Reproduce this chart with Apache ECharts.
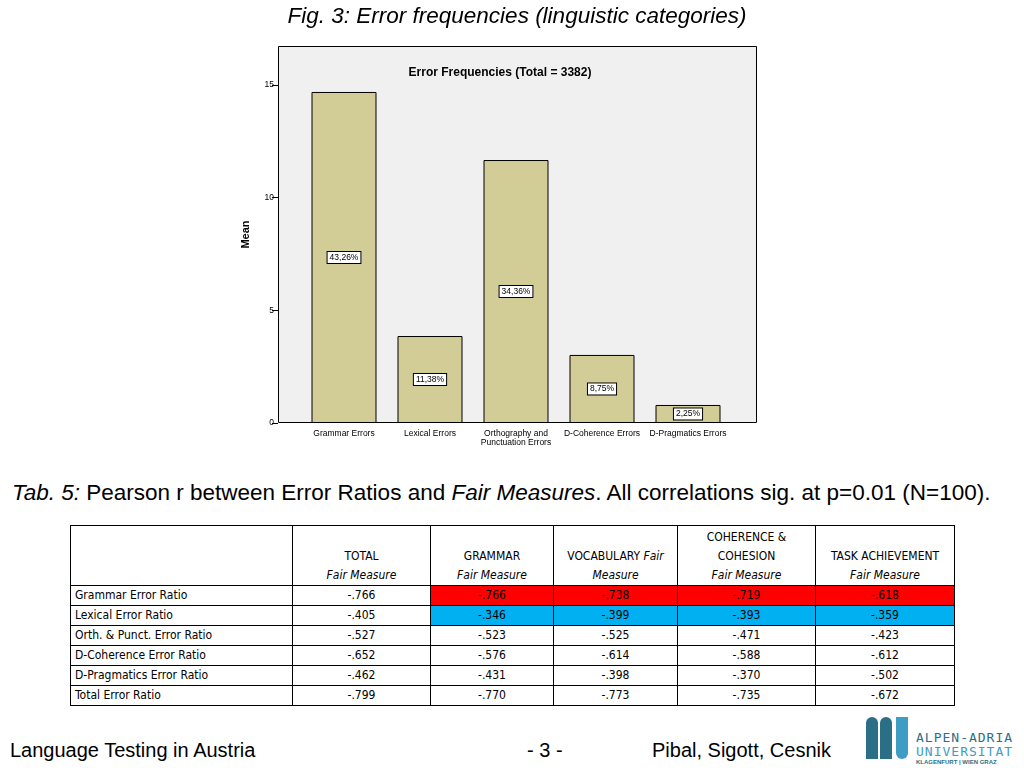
<!DOCTYPE html>
<html><head><meta charset="utf-8">
<script src="https://cdn.jsdelivr.net/npm/echarts@6/dist/echarts.min.js"></script>
<style>
body{margin:0;width:1024px;height:768px;background:#fff;position:relative;overflow:hidden;font-family:"Liberation Sans",Arial,sans-serif}
#c{position:absolute;left:0;top:0;width:1024px;height:460px}
.t{position:absolute;white-space:nowrap;color:#000}
table{position:absolute;left:70px;top:525px;border-collapse:collapse;font-family:"DejaVu Sans Condensed","Liberation Sans Narrow",sans-serif;font-size:12px;table-layout:fixed}
td{border:1px solid #000;padding:0 4px;height:19px;text-align:center;line-height:19px}
td.l{text-align:left}
tr.h td{height:59px;line-height:19px;vertical-align:bottom}
i{font-style:italic}
.r{background:#ff0000}.b{background:#00b0f0}
</style></head><body>
<div id="c"></div>
<div class="t" style="left:0;width:1034px;text-align:center;top:3px;font-size:22.5px;font-style:italic">Fig. 3: Error frequencies (linguistic categories)</div>
<div class="t" style="left:12px;top:480px;font-size:22.5px"><i>Tab. 5:</i> Pearson r between Error Ratios and <i>Fair Measures</i>. All correlations sig. at p=0.01 (N=100).</div>
<div id="tab"></div>
<div class="t" style="left:10px;top:739px;font-size:20px">Language Testing in Austria</div>
<div class="t" style="left:527px;top:739px;font-size:20px">- 3 -</div>
<div class="t" style="left:652px;top:739px;font-size:20px">Pibal, Sigott, Cesnik</div>
<div style="position:absolute;left:866px;top:717px;width:12px;height:42px;background:#2b6f86;border-radius:6px 6px 0 0"></div>
<div style="position:absolute;left:880px;top:717px;width:12px;height:42px;background:#2b6f86;border-radius:6px 6px 0 0"></div>
<div style="position:absolute;left:896px;top:717px;width:12px;height:42px;background:#3f9cc4;border-radius:0 0 6px 6px"></div>
<div class="t" style="left:916px;top:730px;font-size:13px;color:#2b6f86;letter-spacing:1px;font-family:'DejaVu Sans Mono'">ALPEN-ADRIA</div>
<div class="t" style="left:916px;top:744px;font-size:13px;color:#3f9cc4;letter-spacing:1px;font-family:'DejaVu Sans Mono'">UNIVERSITAT</div>
<div class="t" style="left:916px;top:759px;font-size:6px;color:#2b6f86;font-weight:bold">KLAGENFURT | WIEN GRAZ</div>
<script>
const categories=["Grammar Errors","Lexical Errors","Orthography and\nPunctuation Errors","D-Coherence Errors","D-Pragmatics Errors"];
const means=[14.69,3.86,11.67,3.02,0.80];
const percentLabels=["43,26%","11,38%","34,36%","8,75%","2,25%"];

const rowNames=["Grammar Error Ratio","Lexical Error Ratio","Orth. & Punct. Error Ratio","D-Coherence Error Ratio","D-Pragmatics Error Ratio","Total Error Ratio"];
const colHeads=["TOTAL<br><i>Fair Measure</i>","GRAMMAR<br><i>Fair Measure</i>","VOCABULARY <i>Fair</i><br><i>Measure</i>","COHERENCE &amp;<br>COHESION<br><i>Fair Measure</i>","TASK ACHIEVEMENT<br><i>Fair Measure</i>"];
const rTotal=["-.766","-.405","-.527","-.652","-.462","-.799"];
const rGrammar=["-.766","-.346","-.523","-.576","-.431","-.770"];
const rVocab=["-.738","-.399","-.525","-.614","-.398","-.773"];
const rCoh=["-.719","-.393","-.471","-.588","-.370","-.735"];
const rTask=["-.618","-.359","-.423","-.612","-.502","-.672"];

const widths=[222,138,123,124,138,139];
let h='<table><colgroup>'+widths.map(w=>'<col style="width:'+w+'px">').join('')+'</colgroup><tr class="h"><td></td>'+colHeads.map(c=>'<td>'+c+'</td>').join('')+'</tr>';
const cols=[rTotal,rGrammar,rVocab,rCoh,rTask];
rowNames.forEach((n,i)=>{
  h+='<tr><td class="l">'+n+'</td>';
  cols.forEach((c,j)=>{let cls=(j>0&&i===0)?'r':(j>0&&i===1)?'b':'';h+='<td class="'+cls+'">'+c[i]+'</td>';});
  h+='</tr>';
});
h+='</table>';
document.getElementById('tab').innerHTML=h;

const chart=echarts.init(document.getElementById('c'));
chart.setOption({
  animation:false,
  graphic:[{type:'rect',shape:{x:278.5,y:46.5,width:478,height:376},style:{fill:'#f0f0f0',stroke:'#000',lineWidth:1},z:-10}],
  title:{text:'Error Frequencies (Total = 3382)',left:495,textAlign:'center',top:62,textStyle:{fontSize:12,fontWeight:'bold',color:'#000',fontFamily:'Liberation Sans'}},
  grid:{left:301,top:46,width:430,height:377},
  xAxis:{type:'category',data:categories,axisLine:{show:false},axisTick:{alignWithLabel:true,length:4,lineStyle:{color:'#000'}},
    axisLabel:{fontSize:8.5,color:'#000',margin:6,lineHeight:9,interval:0}},
  yAxis:{type:'value',min:0,max:16.73,interval:5,offset:23,name:'Mean',nameLocation:'middle',nameGap:27,nameTextStyle:{fontWeight:'bold',fontSize:11,color:'#000'},
    axisLine:{show:false},axisTick:{show:true,length:6,lineStyle:{color:'#000'}},splitLine:{show:false},
    axisLabel:{fontSize:8.5,color:'#000',showMaxLabel:false,margin:4}},
  series:[{type:'bar',data:means,barWidth:65,itemStyle:{color:'#d2cd96',borderColor:'#000',borderWidth:1},
    label:{show:true,position:'inside',formatter:p=>percentLabels[p.dataIndex],fontSize:8.5,color:'#000',backgroundColor:'#fff',borderColor:'#000',borderWidth:1,padding:[1,2]}}]
});
</script>
</body></html>
